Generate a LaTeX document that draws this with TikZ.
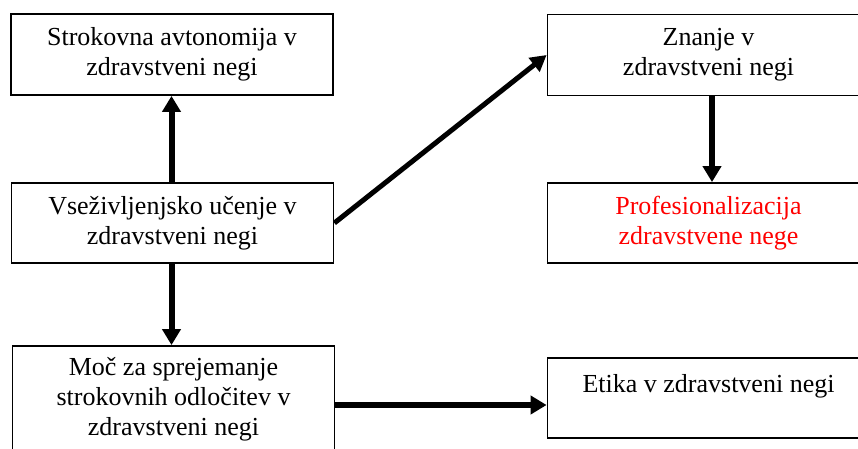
\documentclass[tikz,border=0pt]{standalone}
\usepackage{fontspec}
\setmainfont{Liberation Serif}
\usetikzlibrary{arrows.meta}
\begin{document}
\begin{tikzpicture}[x=1pt,y=-1pt,
  box/.style={draw=black, line width=1.8pt, rectangle, inner sep=0pt,
    minimum width=322pt, align=center,
    font=\fontsize{26}{30}\selectfont},
  arr/.style={line width=6pt, -{Triangle[length=16pt,width=18pt]}},
  diag/.style={line width=5pt, -{Triangle[length=16pt,width=17pt]}}]
  \useasboundingbox (0,0) rectangle (858,449);
  \clip (0,0) rectangle (858,449);
  % left column
  \node[box, minimum height=81pt] (aut) at (172,54.5)
    {Strokovna avtonomija v\\zdravstveni negi};
  \node[box, minimum height=80pt] (uce) at (172.5,223)
    {Vseživljenjsko učenje v\\zdravstveni negi};
  \node[box, minimum height=130pt] (moc) at (173.5,411)
    {Moč za sprejemanje\\strokovnih odločitev v\\zdravstveni negi\\\mbox{}};
  % right column
  \node[box, minimum height=81pt] (zna) at (708.5,55)
    {Znanje v\\zdravstveni negi};
  \node[box, minimum height=80pt, text=red] (pro) at (708.5,223)
    {Profesionalizacija\\zdravstvene nege};
  \node[box, minimum height=80pt] (eti) at (708.5,398)
    {Etika v zdravstveni negi\\\mbox{}};
  % connectors
  \draw[arr] ([xshift=-1pt]uce.north) -- ([xshift=-1pt]uce.north |- aut.south);
  \draw[arr] ([xshift=-1pt]uce.south) -- ([xshift=-1pt]uce.south |- moc.north);
  \draw[diag] (uce.east) -- (zna.west);
  \draw[arr] ([xshift=3.5pt]zna.south) -- ([xshift=3.5pt]pro.north);
  \draw[arr] ([yshift=6pt]moc.east) -- ([yshift=6pt]moc.east -| eti.west);
\end{tikzpicture}
\end{document}
